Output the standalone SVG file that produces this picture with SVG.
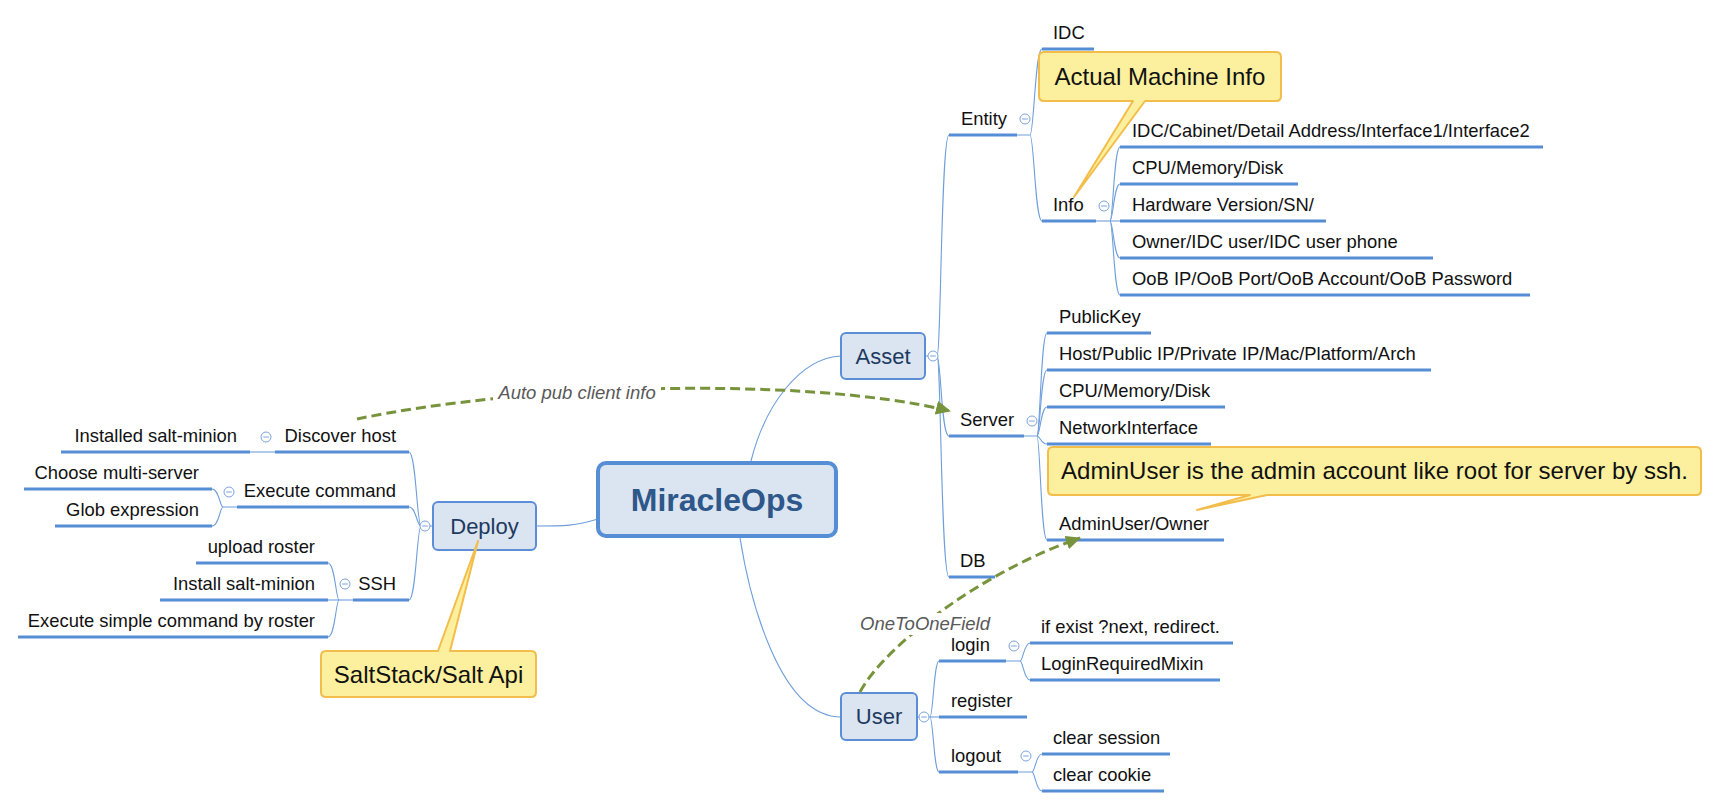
<svg xmlns="http://www.w3.org/2000/svg" xmlns:xlink="http://www.w3.org/1999/xlink" width="1718" height="808" viewBox="0 0 1718 808">
<style>
  .t{font-family:"Liberation Sans",Arial,sans-serif;font-size:18.4px;fill:#111}
  .e{text-anchor:end}
  .ul{stroke:#558ed5;stroke-width:3;fill:none}
  .cn{stroke:#6e9edb;stroke-width:1.1;fill:none}
  .box{fill:#dbe5f1;stroke:#5b8ed6;stroke-width:2}
  .bt{font-family:"Liberation Sans",Arial,sans-serif;font-size:22px;fill:#1d3a60;text-anchor:middle}
  .call{fill:#fcf09e;stroke:#f2bd4b;stroke-width:2;stroke-linejoin:round}
  .ct{font-family:"Liberation Sans",Arial,sans-serif;font-size:24px;fill:#111;text-anchor:middle}
  .rel{stroke:#77933c;stroke-width:3;stroke-dasharray:10 5;fill:none}
  .rl{font-family:"Liberation Sans",Arial,sans-serif;font-size:18.5px;font-style:italic;fill:#595959;text-anchor:middle}
  .cc{fill:#fff;stroke:#7aa3dc;stroke-width:1}
</style>
<defs>
  <marker id="arr" markerUnits="userSpaceOnUse" markerWidth="15" markerHeight="14" refX="14" refY="7" orient="auto">
    <path d="M0,0 L15,7 L0,14 Z" fill="#77933c"/>
  </marker>
  <g id="col">
    <circle class="cc" r="5"/>
    <line x1="-2.8" y1="0" x2="2.8" y2="0" stroke="#7aa3dc" stroke-width="1"/>
  </g>
</defs>
<rect width="1718" height="808" fill="#ffffff"/>

<g id="connectors">
  <path class="cn" d="M751,461 C765,405 800,358 841,356"/>
  <path class="cn" d="M598,519 C575,526 565,526 535,526"/>
  <path class="cn" d="M740,538 C750,600 780,717 841,717"/>
  <path class="cn" d="M926,356 H937 C941,356 941,135 949,135"/>
  <path class="cn" d="M937,356 C941,356 941,436 949,436"/>
  <path class="cn" d="M937,356 C941,356 941,577 949,577"/>
  <path class="cn" d="M1017,135 H1030 C1034,135 1035,49 1042,49"/>
  <path class="cn" d="M1030,135 C1034,135 1035,221 1042,221"/>
  <path class="cn" d="M1096,221 H1120"/>
  <path class="cn" d="M1110,221 C1113,221 1114,147 1120,147"/>
  <path class="cn" d="M1110,221 C1113,221 1114,184 1120,184"/>
  <path class="cn" d="M1110,221 C1113,221 1114,258 1120,258"/>
  <path class="cn" d="M1110,221 C1113,221 1114,295 1120,295"/>
  <path class="cn" d="M1024,436 H1037 C1040,436 1041,333 1047,333"/>
  <path class="cn" d="M1037,436 C1040,436 1041,370 1047,370"/>
  <path class="cn" d="M1037,436 C1040,436 1041,407 1047,407"/>
  <path class="cn" d="M1037,436 C1040,436 1041,444 1047,444"/>
  <path class="cn" d="M1037,436 C1040,436 1041,540 1047,540"/>
  <path class="cn" d="M917,717 H939"/>
  <path class="cn" d="M930,717 C933,717 934,661 939,661"/>
  <path class="cn" d="M930,717 C933,717 934,772 939,772"/>
  <path class="cn" d="M1006,661 H1020 C1023,661 1024,643 1030,643"/>
  <path class="cn" d="M1020,661 C1023,661 1024,680 1030,680"/>
  <path class="cn" d="M1018,772 H1032 C1035,772 1036,754 1042,754"/>
  <path class="cn" d="M1032,772 C1035,772 1036,791 1042,791"/>
  <path class="cn" d="M433,526 H421 C417,526 416,452 409,452"/>
  <path class="cn" d="M421,526 C417,526 416,507 409,507"/>
  <path class="cn" d="M421,526 C417,526 416,600 409,600"/>
  <path class="cn" d="M275,452 H250"/>
  <path class="cn" d="M237,507 H223 C220,507 219,489 212,489"/>
  <path class="cn" d="M223,507 C220,507 219,526 212,526"/>
  <path class="cn" d="M353,600 H328"/>
  <path class="cn" d="M339,600 C336,600 335,563 328,563"/>
  <path class="cn" d="M339,600 C336,600 335,637 328,637"/>
</g>

<g id="n-miracleops">
  <rect x="598" y="463" width="238" height="73" rx="8" fill="#dbe5f1" stroke="#558ed5" stroke-width="4"/>
  <text x="717" y="511" font-family="Liberation Sans, Arial, sans-serif" font-size="32" font-weight="bold" fill="#2e578a" text-anchor="middle">MiracleOps</text>
</g>
<g id="n-asset">
  <rect class="box" x="841" y="333" width="84" height="46" rx="5"/>
  <text class="bt" x="883" y="364">Asset</text>
</g>
<g id="n-deploy">
  <rect class="box" x="433" y="502" width="103" height="48" rx="5"/>
  <text class="bt" x="484.5" y="534" font-size="23.5">Deploy</text>
</g>
<g id="n-user">
  <rect class="box" x="841" y="693" width="76" height="47" rx="5"/>
  <text class="bt" x="879" y="724">User</text>
</g>

<g id="n-entity"><path class="ul" d="M949,135 H1017"/><text class="t" x="961" y="125">Entity</text></g>
<g id="n-idc"><path class="ul" d="M1042,49 H1094"/><text class="t" x="1053" y="39">IDC</text></g>
<g id="n-info"><path class="ul" d="M1042,221 H1096"/><text class="t" x="1053" y="211">Info</text></g>
<g id="n-info1"><path class="ul" d="M1120,147 H1543"/><text class="t" x="1132" y="137">IDC/Cabinet/Detail Address/Interface1/Interface2</text></g>
<g id="n-info2"><path class="ul" d="M1120,184 H1298"/><text class="t" x="1132" y="174">CPU/Memory/Disk</text></g>
<g id="n-info3"><path class="ul" d="M1120,221 H1326"/><text class="t" x="1132" y="211">Hardware Version/SN/</text></g>
<g id="n-info4"><path class="ul" d="M1120,258 H1433"/><text class="t" x="1132" y="248">Owner/IDC user/IDC user phone</text></g>
<g id="n-info5"><path class="ul" d="M1120,295 H1530"/><text class="t" x="1132" y="285">OoB IP/OoB Port/OoB Account/OoB Password</text></g>
<g id="n-server"><path class="ul" d="M949,436 H1024"/><text class="t" x="960" y="426">Server</text></g>
<g id="n-srv1"><path class="ul" d="M1047,333 H1151"/><text class="t" x="1059" y="323">PublicKey</text></g>
<g id="n-srv2"><path class="ul" d="M1047,370 H1431"/><text class="t" x="1059" y="360">Host/Public IP/Private IP/Mac/Platform/Arch</text></g>
<g id="n-srv3"><path class="ul" d="M1047,407 H1225"/><text class="t" x="1059" y="397">CPU/Memory/Disk</text></g>
<g id="n-srv4"><path class="ul" d="M1047,444 H1211"/><text class="t" x="1059" y="434">NetworkInterface</text></g>
<g id="n-srv5"><path class="ul" d="M1047,540 H1224"/><text class="t" x="1059" y="530">AdminUser/Owner</text></g>
<g id="n-db"><path class="ul" d="M949,577 H995"/><text class="t" x="960" y="567">DB</text></g>
<g id="n-login"><path class="ul" d="M939,661 H1006"/><text class="t" x="951" y="651">login</text></g>
<g id="n-register"><path class="ul" d="M939,717 H1027"/><text class="t" x="951" y="707">register</text></g>
<g id="n-logout"><path class="ul" d="M939,772 H1018"/><text class="t" x="951" y="762">logout</text></g>
<g id="n-login1"><path class="ul" d="M1030,643 H1233"/><text class="t" x="1041" y="633">if exist ?next, redirect.</text></g>
<g id="n-login2"><path class="ul" d="M1030,680 H1220"/><text class="t" x="1041" y="670">LoginRequiredMixin</text></g>
<g id="n-logout1"><path class="ul" d="M1042,754 H1170"/><text class="t" x="1053" y="744">clear session</text></g>
<g id="n-logout2"><path class="ul" d="M1042,791 H1164"/><text class="t" x="1053" y="781">clear cookie</text></g>
<g id="n-discover"><path class="ul" d="M275,452 H409"/><text class="t e" x="396" y="442">Discover host</text></g>
<g id="n-installed"><path class="ul" d="M61,452 H250"/><text class="t e" x="237" y="442">Installed salt-minion</text></g>
<g id="n-execute"><path class="ul" d="M237,507 H409"/><text class="t e" x="396" y="497">Execute command</text></g>
<g id="n-choose"><path class="ul" d="M24,489 H212"/><text class="t e" x="199" y="479">Choose multi-server</text></g>
<g id="n-glob"><path class="ul" d="M55,526 H212"/><text class="t e" x="199" y="516">Glob expression</text></g>
<g id="n-ssh"><path class="ul" d="M353,600 H409"/><text class="t e" x="396" y="590">SSH</text></g>
<g id="n-upload"><path class="ul" d="M196,563 H328"/><text class="t e" x="315" y="553">upload roster</text></g>
<g id="n-install"><path class="ul" d="M160,600 H328"/><text class="t e" x="315" y="590">Install salt-minion</text></g>
<g id="n-simple"><path class="ul" d="M18,637 H328"/><text class="t e" x="315" y="627">Execute simple command by roster</text></g>

<g id="collapse">
  <use xlink:href="#col" href="#col" x="933" y="356"/>
  <use xlink:href="#col" href="#col" x="425" y="526"/>
  <use xlink:href="#col" href="#col" x="924" y="717"/>
  <use xlink:href="#col" href="#col" x="1025" y="119"/>
  <use xlink:href="#col" href="#col" x="1104" y="206"/>
  <use xlink:href="#col" href="#col" x="1032" y="421"/>
  <use xlink:href="#col" href="#col" x="1014" y="646"/>
  <use xlink:href="#col" href="#col" x="1026" y="756"/>
  <use xlink:href="#col" href="#col" x="266" y="437"/>
  <use xlink:href="#col" href="#col" x="229" y="492"/>
  <use xlink:href="#col" href="#col" x="345" y="584"/>
</g>

<g id="callouts">
  <g id="c-actual">
    <path class="call" d="M1044,52 H1276 Q1281,52 1281,57 V96 Q1281,101 1276,101 H1145 L1074,197 L1133,101 H1044 Q1039,101 1039,96 V57 Q1039,52 1044,52 Z"/>
    <text class="ct" x="1160" y="85">Actual Machine Info</text>
  </g>
  <g id="c-adminuser">
    <path class="call" d="M1053,447 H1696 Q1701,447 1701,452 V490 Q1701,495 1696,495 H1267 L1197,510 L1250,495 H1053 Q1048,495 1048,490 V452 Q1048,447 1053,447 Z"/>
    <text class="ct" x="1374.5" y="479">AdminUser is the admin account like root for server by ssh.</text>
  </g>
  <g id="c-salt">
    <path class="call" d="M326,651 H438 L478,541 L450,651 H531 Q536,651 536,656 V692 Q536,697 531,697 H326 Q321,697 321,692 V656 Q321,651 326,651 Z"/>
    <text class="ct" x="428.5" y="683" font-size="22">SaltStack/Salt Api</text>
  </g>
</g>

<g id="relationships">
  <path class="rel" d="M357,419 C520,385 800,375 950,411" marker-end="url(#arr)"/>
  <rect x="493" y="381" width="168" height="23" fill="#ffffff"/>
  <text class="rl" x="577" y="399">Auto pub client info</text>
  <path class="rel" d="M860,692 C885,645 985,570 1080,538" marker-end="url(#arr)"/>
  <rect x="859" y="613" width="132" height="22" fill="#ffffff"/>
  <text class="rl" x="925" y="630">OneToOneField</text>
</g>
</svg>
